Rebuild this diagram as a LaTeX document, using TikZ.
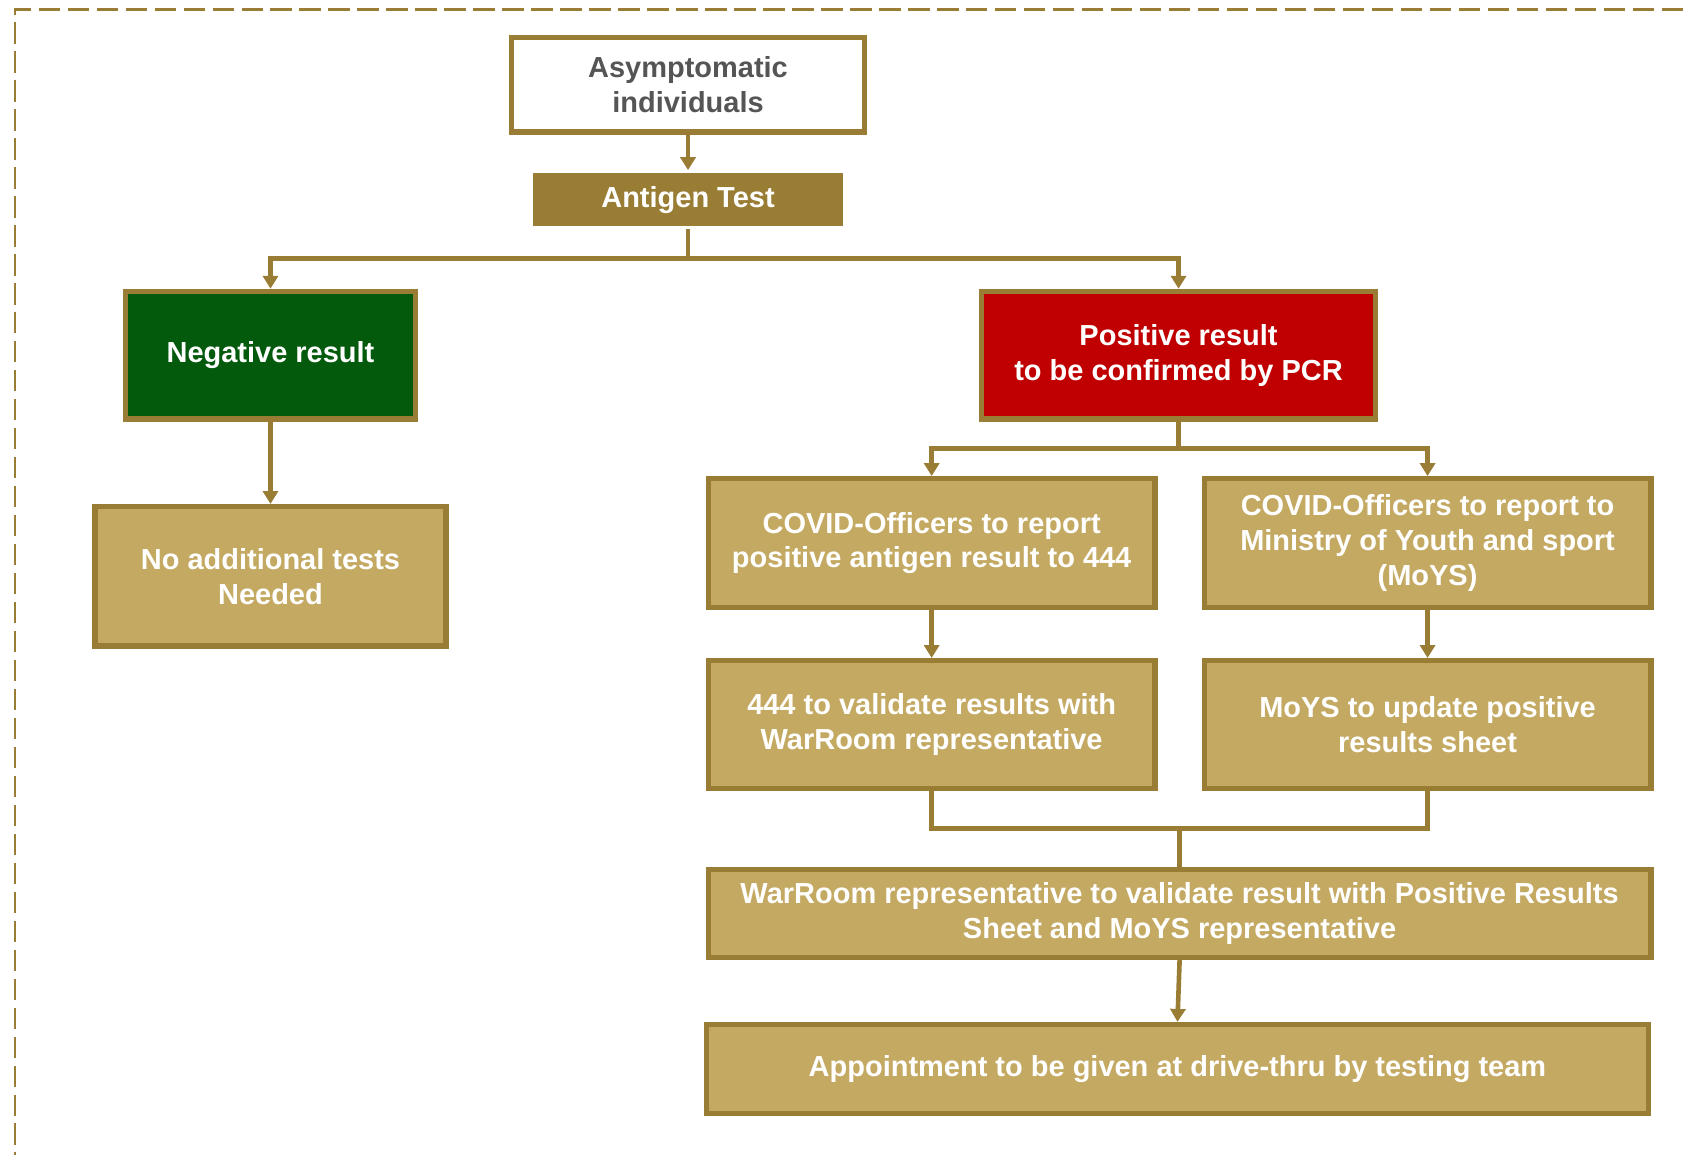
\documentclass[tikz,border=0pt]{standalone}
\usepackage{fontspec}
\setmainfont{Liberation Sans}
\usetikzlibrary{arrows.meta}
\definecolor{goldline}{HTML}{9A7D35}
\definecolor{tanfill}{HTML}{C4A962}
\definecolor{greenfill}{HTML}{035A0D}
\definecolor{redfill}{HTML}{C00000}
\definecolor{graytext}{HTML}{555555}
\tikzset{
  box/.style={draw=goldline, line width=5pt, fill=tanfill, text=white, font=\fontsize{27}{32.5}\selectfont\bfseries, align=center, inner sep=0pt, anchor=center},
  conn/.style={draw=goldline, line width=4.3pt},
  arr/.style={conn, -{Triangle[length=12pt,width=14pt]}},
}
\begin{document}
\begin{tikzpicture}[x=1pt,y=-1pt]
\useasboundingbox (0,0) rectangle (1568,1076);
\draw[goldline, line width=2.5pt, dash pattern=on 20pt off 7pt] (1568,8.7) -- (14,8.7) -- (14,1076);

\node[box, fill=white, text=graytext, minimum width=329pt, minimum height=88pt] (asym) at (641,79) {Asymptomatic\\individuals};
\node[box, draw=none, fill=goldline, minimum width=288pt, minimum height=50pt] (antigen) at (641,186) {Antigen Test};
\node[box, fill=greenfill, minimum width=270pt, minimum height=119pt] (neg) at (252,331) {Negative result};
\node[box, fill=redfill, minimum width=367pt, minimum height=119pt] (pos) at (1098,331) {Positive result\\to be confirmed by PCR};
\node[box, minimum width=327pt, minimum height=130pt] (noadd) at (252,537) {No additional tests\\Needed};
\node[box, minimum width=416pt, minimum height=120pt] (cov1) at (868,506) {COVID-Officers to report\\positive antigen result to 444};
\node[box, minimum width=416pt, minimum height=120pt] (cov2) at (1330,506) {COVID-Officers to report to\\Ministry of Youth and sport\\(MoYS)};
\node[box, minimum width=416pt, minimum height=119pt] (val) at (868,675) {444 to validate results with\\WarRoom representative};
\node[box, minimum width=416pt, minimum height=119pt] (moys) at (1330,675) {MoYS to update positive\\results sheet};
\node[box, minimum width=878pt, minimum height=82pt] (war) at (1099,851) {WarRoom representative to validate result with Positive Results\\Sheet and MoYS representative};
\node[box, minimum width=878pt, minimum height=83pt] (app) at (1097,996) {Appointment to be given at drive-thru by testing team};

\coordinate (split1) at (641,241);
\coordinate (split2) at (1098,418);
\coordinate (join) at (1099,772);

\draw[arr] (asym.south) -- (antigen.north);
\draw[conn] (antigen.south) -- (split1);
\draw[arr] (split1) -| (neg.north);
\draw[arr] (split1) -| (pos.north);
\draw[arr] (neg.south) -- (noadd.north);
\draw[conn] (pos.south) -- (split2);
\draw[arr] (split2) -| (cov1.north);
\draw[arr] (split2) -| (cov2.north);
\draw[arr] (cov1.south) -- (val.north);
\draw[arr] (cov2.south) -- (moys.north);
\draw[conn] (val.south) |- (join) -| (moys.south);
\draw[conn] (join) -- (war.north);
\draw[arr] (war.south) -- (app.north);
\end{tikzpicture}
\end{document}
